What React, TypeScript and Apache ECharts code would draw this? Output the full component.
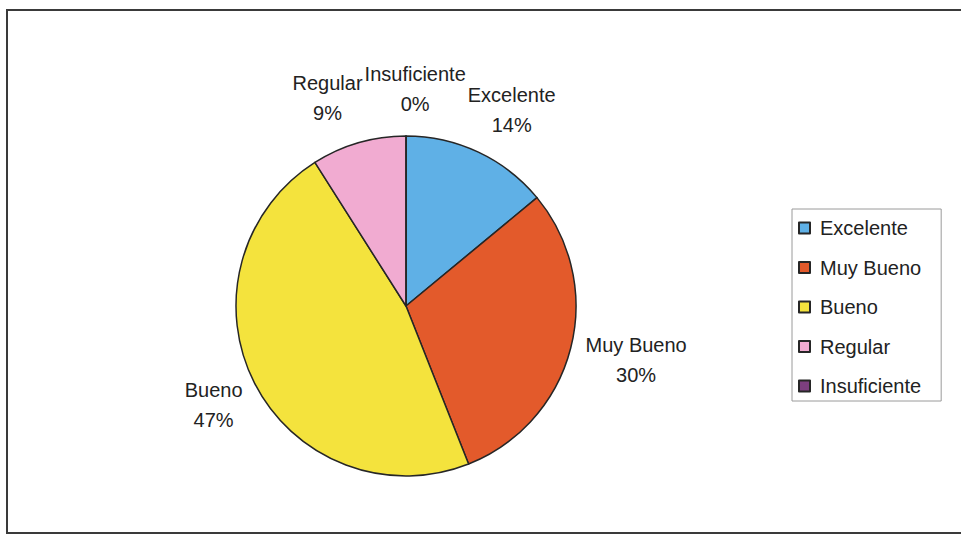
import React, { useEffect, useRef } from "react";
import * as echarts from "echarts";

const categories = ["Excelente", "Muy Bueno", "Bueno", "Regular", "Insuficiente"];
const values = [14, 30, 47, 9, 0];
const colors = ["#5fb0e6", "#e35a2b", "#f4e33d", "#f1abd1", "#7c3f7f"];

const CX = 406;
const CY = 306;
const R = 170;
const GAP = 17;
const FONT_SIZE = 20;
const LINE_H = 30;
const FONT = "'Liberation Sans', Arial, sans-serif";

export default function App() {
  const ref = useRef<HTMLDivElement>(null);
  useEffect(() => {
    const chart = echarts.init(ref.current!, null, { renderer: "svg" });
    const total = values.reduce((a, b) => a + b, 0);
    const mids: number[] = [];
    let acc = 0;
    values.forEach((v) => {
      mids.push(((acc + v / 2) / total) * 2 * Math.PI);
      acc += v;
    });
    const lines = categories.map((n, i) => [n, `${Math.round((values[i] / total) * 100)}%`]);
    const ctx = document.createElement("canvas").getContext("2d")!;
    ctx.font = `${FONT_SIZE}px ${FONT}`;
    const widths = lines.map((ls) => Math.max(...ls.map((t) => ctx.measureText(t).width)));
    const H = LINE_H * 2;
    const pos = mids.map((th, i) => {
      const s = Math.sin(th);
      const c = -Math.cos(th);
      const ax = CX + (R + GAP) * s;
      const ay = CY + (R + GAP) * c;
      return { x: ax + (s * widths[i]) / 2, y: ay + (c * H) / 2 };
    });
    // simple horizontal separation of overlapping labels
    for (let it = 0; it < 10; it++) {
      for (let i = 0; i < pos.length; i++) {
        for (let j = i + 1; j < pos.length; j++) {
          const need = (widths[i] + widths[j]) / 2 + 2;
          const dx = pos[j].x - pos[i].x;
          if (Math.abs(dx) < need && Math.abs(pos[j].y - pos[i].y) < H) {
            const ov = need - Math.abs(dx);
            const d = dx >= 0 ? 1 : -1;
            pos[i].x -= (d * ov) / 2;
            pos[j].x += (d * ov) / 2;
          }
        }
      }
    }
    chart.setOption({
      animation: false,
      backgroundColor: "#ffffff",
      graphic: [
        {
          type: "rect",
          shape: { x: 7, y: 10, width: 980, height: 523 },
          style: { fill: "none", stroke: "#3a3a3a", lineWidth: 2 },
          z: -1,
        },
      ],
      legend: {
        orient: "vertical",
        left: 792,
        top: 209,
        itemWidth: 11,
        itemHeight: 11,
        itemGap: 19.5,
        icon: "rect",
        padding: [9, 20, 5, 6],
        borderColor: "#9a9a9a",
        borderWidth: 1,
        backgroundColor: "#ffffff",
        selectedMode: false,
        textStyle: { fontSize: FONT_SIZE, color: "#222", fontFamily: FONT, padding: [0, 0, 0, 5] },
        data: categories,
      },
      series: [
        {
          type: "pie",
          center: [CX, CY],
          radius: R,
          startAngle: 90,
          clockwise: true,
          avoidLabelOverlap: false,
          emphasis: { disabled: true },
          itemStyle: { borderColor: "#262626", borderWidth: 1.5 },
          label: {
            show: true,
            position: "outside",
            formatter: (p: any) => lines[p.dataIndex].join("\n"),
            fontSize: FONT_SIZE,
            lineHeight: LINE_H,
            color: "#222",
            fontFamily: FONT,
            align: "center",
          },
          labelLine: { show: false },
          labelLayout: (params: any) => {
            const p = pos[params.dataIndex];
            return { x: p.x, y: p.y, align: "center", verticalAlign: "middle" };
          },
          data: categories.map((n, i) => ({
            name: n,
            value: values[i],
            itemStyle: { color: colors[i] },
          })),
        },
      ],
    });
    return () => chart.dispose();
  }, []);
  return (
    <div
      ref={ref}
      style={{ position: "fixed", left: 0, top: 0, width: 961, height: 536 }}
    />
  );
}
